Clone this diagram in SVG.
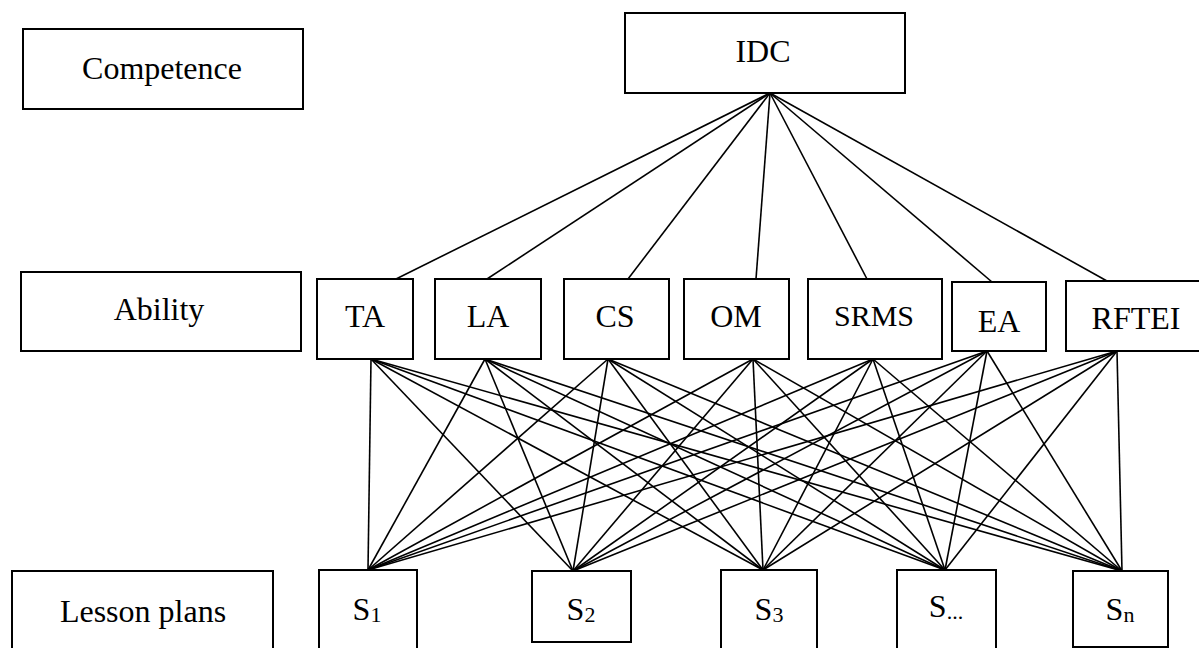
<svg xmlns="http://www.w3.org/2000/svg" width="1199" height="648" viewBox="0 0 1199 648" font-family="'Liberation Serif', 'DejaVu Serif', serif">
<style>
rect{fill:#fff;stroke:#000;stroke-width:2}
text{font-family:'Liberation Serif', 'DejaVu Serif', serif;font-size:32px;fill:#000;text-anchor:middle}
.sub{font-size:22px}
#connectors line{stroke:#000;stroke-width:1.6}
</style>
<rect x="0" y="0" width="1199" height="648" style="stroke:none"/>
<g id="connectors">
<line x1="770" y1="93" x2="396" y2="279"/>
<line x1="770" y1="93" x2="487" y2="279"/>
<line x1="770" y1="93" x2="628" y2="279"/>
<line x1="770" y1="93" x2="756" y2="279"/>
<line x1="770" y1="93" x2="867" y2="279"/>
<line x1="770" y1="93" x2="992" y2="282"/>
<line x1="770" y1="93" x2="1107" y2="281"/>
<line x1="371" y1="359" x2="368" y2="570"/><line x1="371" y1="359" x2="573" y2="571"/><line x1="371" y1="359" x2="763" y2="570"/><line x1="371" y1="359" x2="945" y2="570"/><line x1="371" y1="359" x2="1122" y2="571"/>
<line x1="485" y1="359" x2="368" y2="570"/><line x1="485" y1="359" x2="573" y2="571"/><line x1="485" y1="359" x2="763" y2="570"/><line x1="485" y1="359" x2="945" y2="570"/><line x1="485" y1="359" x2="1122" y2="571"/>
<line x1="608" y1="359" x2="368" y2="570"/><line x1="608" y1="359" x2="573" y2="571"/><line x1="608" y1="359" x2="763" y2="570"/><line x1="608" y1="359" x2="945" y2="570"/><line x1="608" y1="359" x2="1122" y2="571"/>
<line x1="753" y1="359" x2="368" y2="570"/><line x1="753" y1="359" x2="573" y2="571"/><line x1="753" y1="359" x2="763" y2="570"/><line x1="753" y1="359" x2="945" y2="570"/><line x1="753" y1="359" x2="1122" y2="571"/>
<line x1="873" y1="359" x2="368" y2="570"/><line x1="873" y1="359" x2="573" y2="571"/><line x1="873" y1="359" x2="763" y2="570"/><line x1="873" y1="359" x2="945" y2="570"/><line x1="873" y1="359" x2="1122" y2="571"/>
<line x1="987" y1="351" x2="368" y2="570"/><line x1="987" y1="351" x2="573" y2="571"/><line x1="987" y1="351" x2="763" y2="570"/><line x1="987" y1="351" x2="945" y2="570"/><line x1="987" y1="351" x2="1122" y2="571"/>
<line x1="1117" y1="351" x2="368" y2="570"/><line x1="1117" y1="351" x2="573" y2="571"/><line x1="1117" y1="351" x2="763" y2="570"/><line x1="1117" y1="351" x2="945" y2="570"/><line x1="1117" y1="351" x2="1122" y2="571"/>
</g>
<g id="competence"><rect x="23" y="29" width="280" height="80"/><text x="162" y="79">Competence</text></g>
<g id="idc"><rect x="625" y="13" width="280" height="80"/><text x="763" y="62">IDC</text></g>
<g id="ability"><rect x="21" y="272" width="280" height="79"/><text x="159" y="320">Ability</text></g>
<g id="ta"><rect x="317" y="279" width="96" height="80"/><text x="365" y="327">TA</text></g>
<g id="la"><rect x="435" y="279" width="106" height="80"/><text x="488" y="327">LA</text></g>
<g id="cs"><rect x="564" y="279" width="105" height="80"/><text x="615" y="327">CS</text></g>
<g id="om"><rect x="684" y="279" width="105" height="80"/><text x="736" y="327">OM</text></g>
<g id="srms"><rect x="808" y="279" width="134" height="80"/><text x="874" y="326" style="font-size:30px">SRMS</text></g>
<g id="ea"><rect x="952" y="282" width="94" height="69"/><text x="999" y="332">EA</text></g>
<g id="rftei"><rect x="1066" y="281" width="145" height="70"/><text x="1136" y="329">RFTEI</text></g>
<g id="lessonplans"><rect x="12" y="571" width="261" height="90"/><text x="143" y="622">Lesson plans</text></g>
<g id="s1"><rect x="319" y="570" width="98" height="90"/><text x="367" y="620">S<tspan class="sub" dy="2">1</tspan></text></g>
<g id="s2"><rect x="532" y="571" width="99" height="71"/><text x="581" y="620">S<tspan class="sub" dy="2">2</tspan></text></g>
<g id="s3"><rect x="721" y="570" width="96" height="90"/><text x="769" y="620">S<tspan class="sub" dy="2">3</tspan></text></g>
<g id="sdots"><rect x="897" y="570" width="99" height="90"/><text x="946" y="617">S<tspan class="sub" dy="2">...</tspan></text></g>
<g id="sn"><rect x="1073" y="571" width="95" height="76"/><text x="1120" y="620">S<tspan class="sub" dy="2">n</tspan></text></g>
</svg>
